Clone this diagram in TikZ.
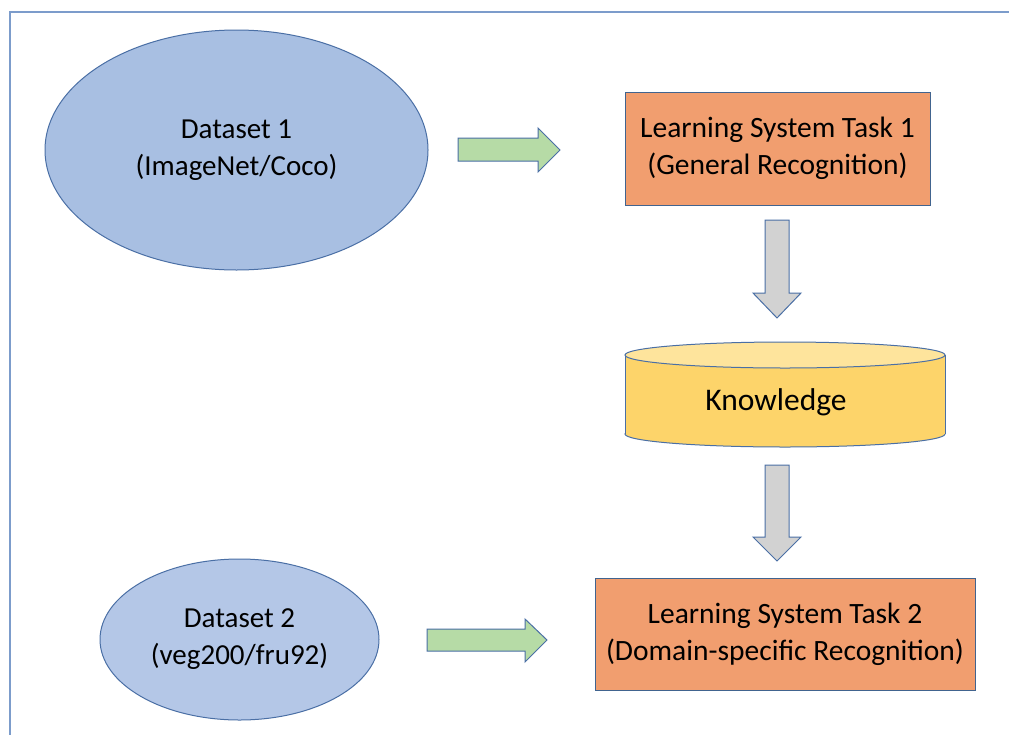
\documentclass[tikz,border=0pt]{standalone}
\usepackage{fontspec}
\setmainfont{Carlito}
\usetikzlibrary{shapes.geometric}

\definecolor{frameblue}{HTML}{7C9CCB}
\definecolor{edgeblue}{HTML}{4A6FA5}
\definecolor{dsfill}{HTML}{A8BFE2}
\definecolor{dsfilltwo}{HTML}{B4C7E7}
\definecolor{taskfill}{HTML}{F19E6F}
\definecolor{taskedge}{HTML}{41648F}
\definecolor{kbfill}{HTML}{FDD46A}
\definecolor{kbtop}{HTML}{FEE49C}
\definecolor{flowgreen}{HTML}{B6DBA6}
\definecolor{flowgray}{HTML}{D2D2D2}

\tikzset{
  dataset/.style={ellipse, draw=edgeblue, line width=1pt, align=center,
    font=\fontsize{29pt}{37pt}\selectfont, inner sep=0pt},
  taskbox/.style={rectangle, draw=taskedge, line width=1pt, fill=taskfill,
    align=center, font=\fontsize{29.5pt}{37pt}\selectfont, inner sep=0pt},
  greenflow/.style={draw=edgeblue, line width=1pt, fill=flowgreen, line join=miter},
  grayflow/.style={draw=edgeblue, line width=1pt, fill=flowgray, line join=miter},
}

\begin{document}
\begin{tikzpicture}[x=1pt,y=-1pt]
  % canvas
  \useasboundingbox (0,0) rectangle (1009,734);
  \fill[white] (0,0) rectangle (1009,734);
  \draw[frameblue, line width=1.5pt] (10,760) -- (10,12) -- (1030,12);

  % data sources
  \node[dataset, fill=dsfill, minimum width=383pt, minimum height=240pt]
    (ds1) at (236.5,150) {Dataset 1\\(ImageNet/Coco)};
  \node[dataset, fill=dsfilltwo, minimum width=279pt, minimum height=161pt]
    (ds2) at (239.5,639.5) {Dataset 2\\(veg200/fru92)};

  % learning tasks
  \node[taskbox, minimum width=305pt, minimum height=113pt]
    (task1) at (777.5,148.5) {Learning System Task 1\\(General Recognition)};
  \node[taskbox, minimum width=380pt, minimum height=112pt]
    (task2) at (785,634) {Learning System Task 2\\(Domain-specific Recognition)};

  % knowledge store (cylinder)
  \coordinate (kbtopc) at (785,355);
  \coordinate (kbbotc) at (785,434);
  \fill[kbfill, draw=edgeblue, line width=1pt] (kbbotc) ellipse [x radius=160pt, y radius=13pt];
  \fill[kbfill] (625,355) rectangle (945,434);
  \draw[edgeblue, line width=1pt] (625,355) -- (625,434) (945,355) -- (945,434);
  \fill[kbtop, draw=edgeblue, line width=1pt] (kbtopc) ellipse [x radius=160pt, y radius=13pt];
  \node[font=\fontsize{31.5pt}{37pt}\selectfont, inner sep=0pt] (kb) at (776,402) {Knowledge};

  % flow arrows
  \draw[greenflow] (458,138) -- (538,138) -- (538,128) -- (560,150)
    -- (538,172) -- (538,161) -- (458,161) -- cycle;
  \draw[greenflow] (427,629) -- (525,629) -- (525,619) -- (547,640)
    -- (525,662) -- (525,651) -- (427,651) -- cycle;
  \draw[grayflow] (765,220) -- (789,220) -- (789,293) -- (801,293)
    -- (777,318) -- (753,293) -- (765,293) -- cycle;
  \draw[grayflow] (765,465) -- (789,465) -- (789,537) -- (801,537)
    -- (777,561) -- (753,537) -- (765,537) -- cycle;
\end{tikzpicture}
\end{document}
